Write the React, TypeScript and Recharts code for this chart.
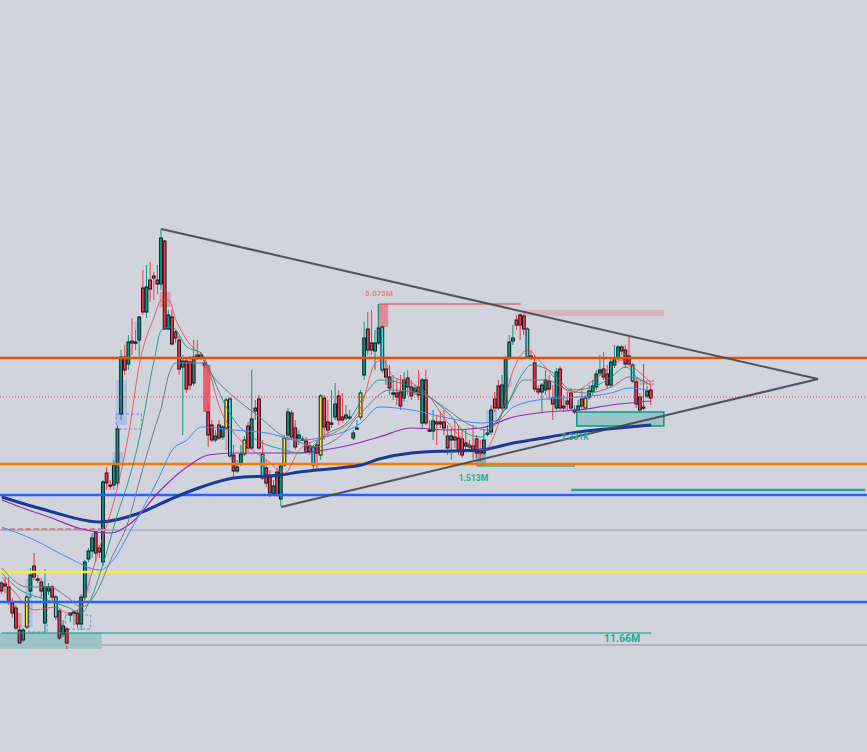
import React from 'react';
import { ComposedChart, Bar, Line, XAxis, YAxis, ReferenceLine, ReferenceArea, ReferenceDot } from 'recharts';

// category slots: 180 candles + empty room on the right for the triangle apex
const SLOTS = 239;

// [open, high, low, close]
const candles: [number, number, number, number][] = [
  [169, 171, 158, 161], [168, 175, 159, 166], [165, 175, 147, 150], [149, 154, 134, 139], [144, 147, 122, 124],
  [122, 127, 106, 109], [112, 124, 110, 122], [125, 157, 123, 155], [161, 184, 154, 177], [186, 199, 172, 175],
  [173, 177, 169, 172], [170, 174, 155, 161], [129, 183, 120, 165], [161, 169, 157, 165], [165, 167, 150, 155],
  [155, 157, 132, 135], [141, 143, 112, 114], [118, 132, 115, 126], [123, 125, 103, 109], [137, 140, 130, 139],
  [140, 141, 127, 139], [139, 142, 124, 128], [128, 158, 122, 155], [155, 192, 152, 190], [193, 204, 190, 201],
  [201, 219, 194, 214], [220, 223, 190, 199], [204, 207, 194, 200], [190, 272, 186, 270], [279, 285, 262, 269],
  [267, 272, 262, 266], [267, 292, 262, 287], [269, 327, 265, 323], [338, 402, 332, 395], [395, 407, 377, 382],
  [388, 417, 382, 410], [411, 434, 397, 409], [410, 422, 402, 410], [412, 436, 396, 435], [464, 482, 437, 440],
  [440, 487, 434, 465], [472, 490, 450, 463], [476, 480, 452, 474], [472, 487, 458, 468], [468, 524, 462, 514],
  [511, 512, 422, 423], [423, 442, 422, 437], [435, 442, 407, 408], [420, 422, 409, 414], [412, 416, 377, 383],
  [385, 397, 317, 391], [391, 395, 359, 363], [390, 396, 362, 367], [369, 412, 366, 395], [397, 412, 392, 395],
  [397, 400, 392, 395], [389, 392, 384, 387], [340, 347, 305, 317], [327, 332, 310, 312], [312, 322, 310, 316],
  [327, 332, 312, 314], [315, 327, 312, 325], [324, 354, 322, 352], [353, 355, 294, 296], [297, 307, 274, 281],
  [281, 292, 279, 285], [289, 307, 286, 298], [298, 316, 296, 312], [326, 330, 300, 304], [304, 382, 302, 333],
  [344, 352, 332, 341], [353, 357, 302, 304], [298, 312, 272, 274], [284, 292, 265, 269], [275, 282, 255, 259],
  [258, 272, 256, 266], [280, 284, 255, 257], [253, 289, 246, 286], [287, 317, 285, 314], [317, 344, 312, 340],
  [339, 342, 312, 315], [324, 332, 302, 305], [314, 322, 307, 317], [313, 316, 311, 313], [311, 315, 298, 300],
  [306, 310, 297, 300], [305, 307, 282, 287], [307, 312, 282, 299], [297, 358, 292, 356], [354, 357, 312, 325],
  [330, 352, 317, 322], [329, 362, 324, 329], [335, 369, 332, 348], [356, 362, 327, 332], [335, 359, 329, 332],
  [334, 347, 332, 337], [335, 342, 332, 335], [314, 322, 312, 319], [324, 332, 322, 324], [335, 362, 332, 359],
  [377, 430, 372, 414], [423, 440, 397, 402], [409, 442, 397, 402], [401, 422, 382, 409], [409, 448, 407, 424],
  [425, 427, 379, 382], [383, 392, 367, 375], [375, 387, 357, 364], [359, 377, 352, 359], [359, 374, 347, 355],
  [360, 377, 342, 346], [354, 380, 350, 372], [374, 382, 357, 365], [365, 372, 352, 356], [360, 367, 357, 364],
  [365, 382, 352, 357], [329, 374, 324, 372], [372, 382, 327, 329], [322, 332, 320, 322], [321, 342, 312, 331],
  [330, 337, 307, 328], [330, 340, 324, 328], [330, 342, 317, 324], [316, 327, 297, 304], [312, 324, 292, 316],
  [315, 332, 304, 312], [314, 327, 297, 302], [313, 322, 294, 297], [306, 322, 302, 309], [305, 312, 300, 307],
  [306, 327, 292, 301], [313, 317, 294, 299], [302, 312, 290, 299], [299, 322, 297, 312], [319, 327, 316, 319],
  [320, 347, 317, 342], [353, 360, 340, 344], [366, 372, 342, 344], [344, 377, 342, 367], [344, 396, 342, 394],
  [394, 417, 392, 410], [411, 427, 407, 414], [432, 437, 422, 427], [437, 439, 412, 427], [436, 438, 417, 423],
  [423, 425, 394, 395], [396, 402, 392, 395], [389, 397, 360, 363], [363, 367, 357, 360], [360, 369, 340, 367],
  [362, 382, 357, 372], [371, 377, 352, 363], [354, 367, 332, 348], [344, 384, 342, 380], [383, 386, 342, 344],
  [346, 357, 340, 344], [351, 360, 342, 348], [359, 364, 342, 344], [340, 347, 338, 342], [342, 352, 340, 346],
  [353, 364, 342, 346], [344, 357, 342, 354], [355, 367, 352, 361], [360, 372, 357, 366], [365, 382, 362, 378],
  [379, 397, 376, 382], [383, 400, 372, 375], [378, 387, 364, 367], [367, 394, 364, 390], [387, 407, 384, 394],
  [394, 407, 392, 405], [405, 407, 397, 401], [402, 407, 384, 388], [396, 416, 385, 388], [387, 389, 369, 371],
  [370, 374, 344, 348], [355, 359, 340, 342], [345, 388, 342, 345], [356, 366, 354, 361], [362, 367, 347, 354],
];

const yellowBars = [7, 62, 67, 78, 88, 99, 129, 161];
const cyanBars = [15, 63, 72, 86, 105, 145, 174];

// moving averages, [candle index, value]
const maFast: [number, number][] = [
  [0, 175], [3, 162], [9, 142], [15, 145], [18, 139], [22, 145], [24, 169], [27, 205], [31, 252], [35, 319],
  [38, 389], [42, 435], [44, 452], [46, 452], [48, 432], [51, 412], [55, 395], [57, 382], [60, 345], [64, 319],
  [68, 305], [73, 292], [78, 279], [82, 302], [89, 315], [93, 322], [99, 345], [103, 389], [105, 392], [108, 375],
  [113, 369], [117, 359], [123, 329], [130, 305], [133, 302], [137, 329], [141, 382], [145, 402], [148, 392],
  [153, 372], [157, 359], [162, 369], [167, 382], [171, 392], [174, 385], [179, 369],
];
const maTeal: [number, number][] = [
  [0, 179], [5, 162], [10, 155], [18, 145], [22, 139], [24, 149], [28, 189], [32, 239], [35, 272], [38, 315],
  [42, 392], [44, 422], [47, 425], [51, 405], [55, 399], [57, 385], [60, 359], [64, 332], [69, 315], [78, 302],
  [82, 299], [90, 319], [95, 329], [101, 362], [104, 372], [110, 369], [115, 362], [123, 339], [128, 319],
  [132, 315], [135, 325], [139, 345], [143, 375], [146, 387], [152, 379], [157, 362], [163, 365], [168, 375],
  [172, 385], [175, 375], [179, 367],
];
const maGrey: [number, number][] = [
  [0, 184], [7, 165], [13, 165], [18, 155], [22, 145], [26, 159], [30, 192], [35, 232], [38, 272], [42, 322],
  [44, 345], [46, 377], [48, 389], [55, 389], [59, 372], [64, 355], [71, 335], [78, 315], [82, 310], [86, 305],
  [93, 315], [99, 339], [107, 362], [115, 359], [123, 342], [128, 329], [134, 322], [139, 345], [144, 372],
  [150, 372], [156, 362], [161, 359], [168, 365], [173, 375], [178, 369],
];
const maBlue: [number, number][] = [
  [0, 225], [9, 212], [18, 195], [27, 182], [30, 189], [36, 225], [43, 272], [47, 302], [51, 312], [55, 325],
  [64, 322], [73, 319], [82, 312], [89, 315], [99, 329], [104, 345], [113, 342], [123, 334], [132, 329],
  [137, 332], [141, 345], [150, 353], [159, 355], [168, 359], [173, 364], [178, 362],
];
const maPurple: [number, number][] = [
  [0, 252], [5, 245], [13, 235], [22, 223], [30, 219], [36, 230], [43, 259], [51, 285], [57, 297], [64, 299],
  [82, 299], [89, 302], [96, 307], [104, 315], [113, 324], [123, 322], [132, 324], [141, 335], [150, 340],
  [159, 342], [168, 347], [179, 351],
];
const ma200: [number, number][] = [
  [0, 255], [13, 241], [27, 230], [38, 239], [46, 252], [55, 265], [64, 274], [77, 277], [82, 280], [93, 284],
  [99, 287], [104, 293], [113, 299], [124, 301], [132, 302], [141, 309], [151, 315], [159, 320], [170, 324],
  [179, 327],
];

// horizontal levels
const levelRed = 394;
const levelDotted = 355;
const levelOrange = 288;
const levelBlue1 = 257;
const levelTeal = 262;
const levelGrey1 = 222;
const levelYellow = 180;
const levelBlue2 = 150;
const levelGrey2 = 107;
const level1166 = 119;

// triangle [index, value]
const triTop: [number, number][] = [[44, 523], [225, 373]];
const triBottom: [number, number][] = [[77, 245], [225, 373]];

// zones [x1, x2, y1, y2]
const tealZones: [number, number, number, number][] = [[0, 27, 103, 119], [159, 182, 326, 340], [131, 133, 286, 300]];
const supplyZone: [number, number, number, number] = [144, 182, 436, 442];
const redBlock: [number, number, number, number] = [104, 106, 425, 448];
const blueShades: [number, number, number, number][] = [
  [32, 34, 327, 372], [31, 33, 287, 300], [37, 38, 422, 431], [7, 8, 125, 173], [23, 24, 159, 184],
  [134, 136, 330, 342], [139, 140, 365, 374], [78, 79, 297, 315],
];
const blueBoxes: [number, number, number, number][] = [[32, 38, 323, 338], [8, 12, 120, 155], [18, 24, 123, 137]];
const redShades: [number, number, number, number, number][] = [
  [44, 46, 445, 460, 0.35], [56, 57, 340, 387, 0.75], [62, 63, 302, 324, 0.3], [4, 5, 124, 139, 0.35],
];

// volume labels [index, value, text]
const volLabels: [number, number, string][] = [[104, 459, '5.075M'], [130, 274, '1.513M'], [158, 315, '2.331K']];

const UP = '#089981';
const DOWN = '#f23645';

const rows: any[] = Array.from({ length: SLOTS }, (_, i) => {
  const row: any = { i };
  const c = candles[i];
  if (c) {
    row.o = c[0];
    row.h = c[1];
    row.l = c[2];
    row.c = c[3];
    row.range = [c[2], c[1]];
  }
  return row;
});
const put = (key: string, pts: [number, number][]) => pts.forEach(([i, v]) => { rows[i][key] = v; });
put('maFast', maFast);
put('maTeal', maTeal);
put('maGrey', maGrey);
put('maBlue', maBlue);
put('maPurple', maPurple);
put('ma200', ma200);

const Candle = (props: any) => {
  const { x, y, width, height, payload } = props;
  if (!payload || payload.o == null) return null;
  const { o, h, l, c, i } = payload;
  const top = Math.min(y, y + height);
  const span = Math.abs(height);
  const k = span / (h - l || 1);
  const toPx = (v: number) => top + (h - v) * k;
  const up = c >= o;
  let fill = up ? UP : DOWN;
  if (yellowBars.includes(i)) fill = '#ffeb3b';
  if (cyanBars.includes(i)) fill = '#2ee6f5';
  const cx = x + width / 2;
  const bTop = toPx(Math.max(o, c));
  const bH = Math.max(toPx(Math.min(o, c)) - bTop, 1.2);
  return (
    <g>
      <line x1={cx} x2={cx} y1={top} y2={top + span} stroke={up ? UP : DOWN} strokeWidth={1} />
      <rect x={x} y={bTop} width={width} height={bH} fill={fill} stroke="#131722" strokeWidth={1} />
    </g>
  );
};

const lbl = (value: string, fill: string, size: number) => ({
  value,
  position: 'center' as const,
  fill,
  fontSize: size,
  fontWeight: 700,
  fontFamily: 'Roboto, sans-serif',
});

const maProps = { dot: false, activeDot: false, connectNulls: true, type: 'monotone' as const, isAnimationActive: false };

const App: React.FC = () => {
  return (
    <div style={{ position: 'absolute', left: 0, top: 0, width: 867, height: 752, background: '#d1d4dc' }}>
      <ComposedChart width={867} height={752} data={rows} margin={{ top: 0, right: 0, bottom: 0, left: 0 }}>
        <XAxis dataKey="i" type="category" hide />
        <YAxis type="number" domain={[0, 752]} allowDataOverflow hide />

        {tealZones.map(([x1, x2, y1, y2], n) => (
          <ReferenceArea key={'tz' + n} x1={x1} x2={x2} y1={y1} y2={y2} fill="#26a69a" fillOpacity={n === 2 ? 0.55 : 0.32}
            stroke={n === 1 ? '#089981' : 'none'} strokeWidth={1.5} ifOverflow="visible" />
        ))}
        <ReferenceArea x1={supplyZone[0]} x2={supplyZone[1]} y1={supplyZone[2]} y2={supplyZone[3]} fill="#f23645" fillOpacity={0.2} stroke="none" />
        <ReferenceArea x1={redBlock[0]} x2={redBlock[1]} y1={redBlock[2]} y2={redBlock[3]} fill="#f23645" fillOpacity={0.45} stroke="none" />
        {blueShades.map(([x1, x2, y1, y2], n) => (
          <ReferenceArea key={'bs' + n} x1={x1} x2={x2} y1={y1} y2={y2} fill="#2962ff" fillOpacity={0.18} stroke="none" />
        ))}
        {blueBoxes.map(([x1, x2, y1, y2], n) => (
          <ReferenceArea key={'bb' + n} x1={x1} x2={x2} y1={y1} y2={y2} fill="none" stroke="#2962ff" strokeOpacity={0.6} strokeDasharray="3 2" />
        ))}
        {redShades.map(([x1, x2, y1, y2, op], n) => (
          <ReferenceArea key={'rs' + n} x1={x1} x2={x2} y1={y1} y2={y2} fill="#f23645" fillOpacity={op} stroke="none" />
        ))}

        <ReferenceLine y={levelGrey1} stroke="#b2b5be" strokeWidth={2} />
        <ReferenceLine y={levelGrey2} stroke="#b2b5be" strokeWidth={2} />
        <ReferenceLine segment={[{ x: 0, y: levelGrey1 + 1 }, { x: 28, y: levelGrey1 + 1 }]} stroke="#f23645" strokeDasharray="5 3" strokeWidth={1} />
        <ReferenceLine y={levelYellow} stroke="#ffeb3b" strokeWidth={2.5} />
        <ReferenceLine y={levelBlue2} stroke="#2962ff" strokeWidth={2.5} />
        <ReferenceLine y={levelBlue1} stroke="#2962ff" strokeWidth={2.5} />
        <ReferenceLine segment={[{ x: 157, y: levelTeal }, { x: SLOTS - 1, y: levelTeal }]} stroke="#26a69a" strokeWidth={2.5} />
        <ReferenceLine y={levelOrange} stroke="#f57c00" strokeWidth={2.5} />
        <ReferenceLine y={levelDotted} stroke="#f23645" strokeDasharray="1 2" strokeWidth={1} />
        <ReferenceLine segment={[{ x: 0, y: level1166 }, { x: 179, y: level1166 }]} stroke="#089981" strokeWidth={1} />
        <ReferenceLine segment={[{ x: 131, y: 286 }, { x: 158, y: 286 }]} stroke="#089981" strokeWidth={1} />
        <ReferenceLine segment={[{ x: 104, y: 448 }, { x: 143, y: 448 }]} stroke="#f23645" strokeWidth={1} />
        <ReferenceLine segment={[{ x: 175, y: 371 }, { x: 180, y: 371 }]} stroke="#f23645" strokeDasharray="2 1" strokeWidth={1} />
        <ReferenceLine segment={[{ x: 175, y: 368 }, { x: 180, y: 368 }]} stroke="#f23645" strokeDasharray="2 1" strokeWidth={1} />

        <Line dataKey="ma200" stroke="#163a96" strokeWidth={3} {...maProps} />
        <Line dataKey="maPurple" stroke="#9c27b0" strokeWidth={1.2} {...maProps} />
        <Line dataKey="maBlue" stroke="#448aff" strokeWidth={1} {...maProps} />
        <Line dataKey="maGrey" stroke="#787b86" strokeWidth={1} {...maProps} />
        <Line dataKey="maTeal" stroke="#089981" strokeWidth={1} strokeOpacity={0.85} {...maProps} />
        <Line dataKey="maFast" stroke="#f23645" strokeWidth={1} strokeOpacity={0.75} {...maProps} />

        <Bar dataKey="range" barSize={2.8} shape={<Candle />} activeBar={false} isAnimationActive={false} />

        <ReferenceLine y={levelRed} stroke="#e65100" strokeWidth={2.5} />
        <ReferenceLine segment={[{ x: triTop[0][0], y: triTop[0][1] }, { x: triTop[1][0], y: triTop[1][1] }]} stroke="#434651" strokeWidth={2} strokeOpacity={0.9} />
        <ReferenceLine segment={[{ x: triBottom[0][0], y: triBottom[0][1] }, { x: triBottom[1][0], y: triBottom[1][1] }]} stroke="#434651" strokeWidth={2} strokeOpacity={0.9} />

        {volLabels.map(([x, y, t], n) => (
          <ReferenceDot key={'vl' + n} x={x} y={y} r={0} stroke="none" fill="none"
            label={lbl(t, n === 0 ? '#f77c80' : '#22ab94', n === 0 ? 8 : 8.5)} />
        ))}
        <ReferenceDot x={171} y={114} r={0} stroke="none" fill="none" label={lbl('11.66M', '#22ab94', 10.5)} />
      </ComposedChart>
    </div>
  );
};

export default App;
